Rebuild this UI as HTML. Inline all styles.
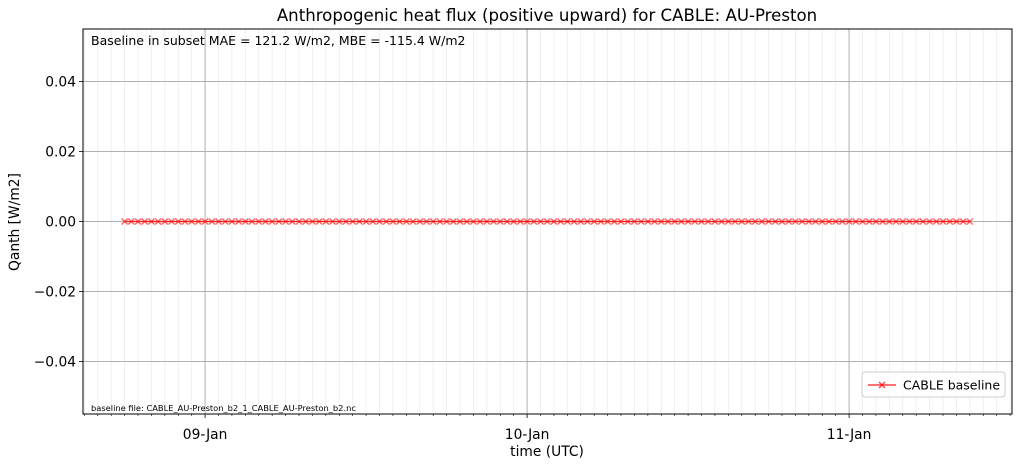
<!DOCTYPE html>
<html><head><meta charset="utf-8">
<style>
body{margin:0;background:#fff;font-family:"Liberation Sans","DejaVu Sans",sans-serif;}
svg text{font-family:"DejaVu Sans","Liberation Sans",sans-serif;}
</style></head>
<body>
<svg id="chart" width="1021" height="468" xmlns="http://www.w3.org/2000/svg">
<rect width="1021" height="468" fill="#fff"/>
<g id="grid"></g>
<g id="series"></g>
<rect x="83" y="29" width="929" height="385" fill="none" stroke="#000" stroke-width="1"/>
<g id="axes"></g>
<text x="547" y="21" font-size="16.6" text-anchor="middle">Anthropogenic heat flux (positive upward) for CABLE: AU-Preston</text>
<text x="91" y="45" font-size="12.5">Baseline in subset MAE = 121.2 W/m2, MBE = -115.4 W/m2</text>
<text x="91" y="411" font-size="8.3">baseline file: CABLE_AU-Preston_b2_1_CABLE_AU-Preston_b2.nc</text>
<text x="547" y="456" font-size="13.8" text-anchor="middle">time (UTC)</text>
<text x="19" y="222" font-size="13.8" text-anchor="middle" transform="rotate(-90 19 222)">Qanth [W/m2]</text>
<g>
<rect x="862" y="372" width="143" height="25" rx="3" fill="#fff" fill-opacity="0.8" stroke="#ccc"/>
<line x1="868" y1="385" x2="896" y2="385" stroke="#ff0000" stroke-opacity="0.75" stroke-width="1.5"/>
<path d="M879,382 L885,388 M885,382 L879,388" stroke="#ff0000" stroke-opacity="0.75" stroke-width="1.3"/>
<text x="903" y="389.5" font-size="12.5">CABLE baseline</text>
</g>
</svg>
<script>
// hours since 08-Jan 00:00 UTC
const startHour = 18;
const stepHours = 0.5;
const values = [0,0,0,0,0,0,0,0,0,0,0,0,0,0,0,0,0,0,0,0,0,0,0,0,0,0,0,0,0,0,0,0,0,0,0,0,0,0,0,0,0,0,0,0,0,0,0,0,0,0,0,0,0,0,0,0,0,0,0,0,0,0,0,0,0,0,0,0,0,0,0,0,0,0,0,0,0,0,0,0,0,0,0,0,0,0,0,0,0,0,0,0,0,0,0,0,0,0,0,0,0,0,0,0,0,0,0,0,0,0,0,0,0,0,0,0,0,0,0,0,0,0,0,0,0,0,0];
const yTicks = [-0.04,-0.02,0.00,0.02,0.04];
const yTickLabels = ["\u22120.04","\u22120.02","0.00","0.02","0.04"];
const xTickHours = [24,48,72];
const xTickLabels = ["09-Jan","10-Jan","11-Jan"];

const NS="http://www.w3.org/2000/svg";
const L=83,R=1012,T=29,B=414;
const yMin=-0.055,yMax=0.055;
const xMin=14.9,xPerH=322/24;
const X=h=>L+(h-xMin)*xPerH;
const Y=v=>T+(yMax-v)/(yMax-yMin)*(B-T);
function mk(tag,attrs,parent){const e=document.createElementNS(NS,tag);for(const k in attrs)e.setAttribute(k,attrs[k]);parent.appendChild(e);return e;}
const grid=document.getElementById('grid'),axes=document.getElementById('axes'),series=document.getElementById('series');

for(let h=Math.ceil(xMin);X(h)<R;h++){
  if(h%24===0)continue;
  const g=mk('line',{x1:X(h),x2:X(h),y1:T,y2:B,stroke:'#ececec','stroke-width':0.8},grid);
  
  
  mk('line',{x1:X(h),x2:X(h),y1:B,y2:B+2,stroke:'#000','stroke-width':0.6},axes);
}
xTickHours.forEach((h,i)=>{
  const g=mk('line',{x1:X(h),x2:X(h),y1:T,y2:B,stroke:'#b0b0b0','stroke-width':1},grid);
  
  
  mk('line',{x1:X(h),x2:X(h),y1:B,y2:B+4,stroke:'#000','stroke-width':0.8},axes);
  const t=mk('text',{x:X(h),y:B+25,'font-size':13.8,'text-anchor':'middle'},axes);
  t.textContent=xTickLabels[i];
  
  
});
yTicks.forEach((v,i)=>{
  const g=mk('line',{x1:L,x2:R,y1:Y(v),y2:Y(v),stroke:'#b0b0b0','stroke-width':1},grid);
  
  
  mk('line',{x1:L-4,x2:L,y1:Y(v),y2:Y(v),stroke:'#000','stroke-width':0.8},axes);
  const t=mk('text',{x:L-7,y:Y(v)+5,'font-size':13.8,'text-anchor':'end'},axes);
  t.textContent=yTickLabels[i];
  
  
});
const pts=values.map((v,i)=>[X(startHour+i*stepHours),Y(v)]);
const line=mk('polyline',{points:pts.map(p=>p.join(',')).join(' '),fill:'none',stroke:'#ff0000','stroke-opacity':0.75,'stroke-width':1.5},series);


pts.forEach(p=>{
  const m=mk('path',{d:`M${p[0]-3},${p[1]-3} L${p[0]+3},${p[1]+3} M${p[0]+3},${p[1]-3} L${p[0]-3},${p[1]+3}`,stroke:'#ff0000','stroke-opacity':0.6,'stroke-width':1.4},series);
  
  
});
</script>
</body></html>
